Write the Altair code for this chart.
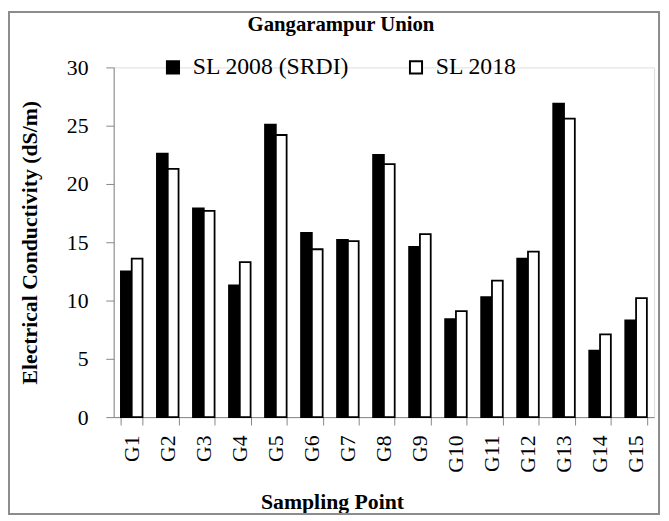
import altair as alt
import pandas as pd

points = ["G1", "G2", "G3", "G4", "G5", "G6", "G7", "G8", "G9", "G10", "G11", "G12", "G13", "G14", "G15"]
series = ["SL 2008 (SRDI)", "SL 2018"]
sl2008 = [12.5, 22.6, 17.9, 11.3, 25.1, 15.8, 15.2, 22.5, 14.6, 8.4, 10.3, 13.6, 26.9, 5.7, 8.3]
sl2018 = [13.6, 21.3, 17.7, 13.3, 24.2, 14.4, 15.1, 21.7, 15.7, 9.1, 11.7, 14.2, 25.6, 7.1, 10.2]
chart_title = "Gangarampur Union"

rows = []
for p, a, b in zip(points, sl2008, sl2018):
    rows.append({"point": p, "series": series[0], "ec": a})
    rows.append({"point": p, "series": series[1], "ec": b})
df = pd.DataFrame(rows)

FONT = "Liberation Serif"
GRAY = "#868686"

bars = alt.Chart(df).mark_bar(stroke="black", strokeWidth=1.8).encode(
    x=alt.X("point:N", sort=points,
            scale=alt.Scale(paddingInner=0.4, paddingOuter=0.2),
            axis=alt.Axis(title="Sampling Point", labelAngle=-90, labelFontSize=22,
                          labelFont=FONT, labelColor="black", labelPadding=10,
                          labelAlign="right", labelBaseline="middle",
                          tickBand="extent", tickSize=8, tickColor=GRAY, domainColor=GRAY,
                          titleFont=FONT, titleFontSize=22, titleFontWeight="bold",
                          titleX=221, titleY=86, titleAlign="center", titleBaseline="middle")),
    xOffset=alt.XOffset("series:N", sort=series, scale=alt.Scale(paddingInner=0, paddingOuter=0)),
    y=alt.Y("ec:Q", scale=alt.Scale(domain=[0, 30]),
            axis=alt.Axis(title="Electrical Conductivity (dS/m)", values=[0, 5, 10, 15, 20, 25, 30],
                          grid=False, labelFontSize=22, labelFont=FONT, labelColor="black",
                          labelPadding=18, tickSize=8, tickColor=GRAY, domainColor=GRAY,
                          titleFont=FONT, titleFontSize=22, titleFontWeight="bold",
                          titleX=-85, titleY=177, titleAngle=270, titleAlign="center",
                          titleBaseline="middle")),
    fill=alt.Fill("series:N", sort=series,
                  scale=alt.Scale(domain=series, range=["black", "white"]),
                  legend=alt.Legend(title=None, orient="none", legendX=48, legendY=-12,
                                    direction="horizontal", symbolType="square", symbolSize=150,
                                    symbolStrokeColor="black", symbolStrokeWidth=2,
                                    labelFont=FONT, labelFontSize=24, labelColor="black",
                                    labelOffset=8, columnPadding=55)),
)

frame = alt.Chart(pd.DataFrame({"a": [0]})).mark_rect(
    fill=None, fillOpacity=0, stroke="#8c8c8c", strokeWidth=2
).encode(
    x=alt.value(-106), x2=alt.value(552), y=alt.value(-56), y2=alt.value(452)
)

title_text = alt.Chart(pd.DataFrame({"t": [chart_title]})).mark_text(
    font=FONT, fontSize=21, fontWeight="bold", color="black", align="center", baseline="middle"
).encode(
    text="t:N", x=alt.value(230), y=alt.value(-43)
)

chart = alt.layer(frame, bars, title_text).properties(
    width=547, height=354,
    padding={"left": 107, "top": 57, "right": 7, "bottom": 99},
    autosize=alt.AutoSizeParams(type="none"),
).configure_view(stroke=None).configure(background="white")

chart.save("out.html", embed_options={"renderer": "svg", "actions": False})
